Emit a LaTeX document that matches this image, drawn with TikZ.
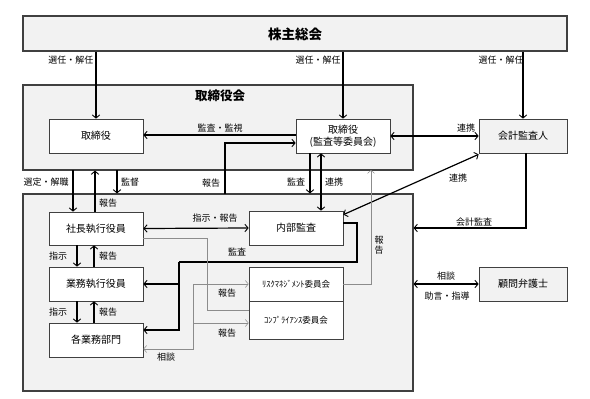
\documentclass[tikz,border=0pt]{standalone}
\usepackage{fontspec}
\setmainfont{Noto Sans CJK JP}
\usetikzlibrary{arrows.meta}
\definecolor{boxgray}{HTML}{F2F2F2}
\definecolor{edge}{HTML}{404040}
\tikzset{
  bigbox/.style={draw=edge, line width=1.1pt, fill=boxgray, rectangle, inner sep=0pt},
  subbox/.style={draw=edge, line width=0.7pt, fill=white, rectangle, inner sep=0pt, minimum width=94pt, font=\fontsize{10}{12}\selectfont, align=center},
  graybox/.style={subbox, fill=boxgray, minimum width=88pt, minimum height=34pt},
  lbl/.style={inner sep=0pt, font=\fontsize{9}{10}\selectfont},
  tipw/.tip={Straight Barb[length=3.2pt,width=7.5pt,line width=0.9pt]},
  tipt/.tip={Straight Barb[length=3pt,width=7pt,line width=0.5pt]},
  arr/.style={line width=1.2pt, -tipw},
  darr/.style={line width=1.2pt, tipw-tipw},
  heavy/.style={line width=1.2pt},
  tline/.style={line width=0.6pt, draw=gray!90},
  tarr/.style={tline, -tipt},
}
\begin{document}
\begin{tikzpicture}[x=1pt,y=-1pt]
\useasboundingbox[fill=white] (0,0) rectangle (590,399);
% big boxes
\node[bigbox, minimum width=544pt, minimum height=35pt] (sh) at (295,33.5) {};
\node[inner sep=0pt, font=\fontsize{13.5}{15}\bfseries] (shlabel) at (295,34) {株主総会};
\node[bigbox, minimum width=390pt, minimum height=85pt] (board) at (218,127.5) {};
\node[inner sep=0pt, font=\fontsize{12.5}{14}\bfseries] (boardlabel) at (220,96) {取締役会};
\node[bigbox, minimum width=390pt, minimum height=197pt] (lower) at (218,292.5) {};
% sub boxes
\node[subbox, minimum height=34pt] (tori) at (96,136) {取締役};
\node[subbox, minimum height=34pt] (kansa) at (343,136) {取締役\\(監査等委員会)};
\node[graybox] (kaikei) at (523,136) {会計監査人};
\node[subbox, minimum height=33pt] (shacho) at (96,228.5) {社長執行役員};
\node[subbox, minimum height=34pt] (gyomu) at (96,284) {業務執行役員};
\node[subbox, minimum height=34pt] (kakubu) at (96,340) {各業務部門};
\node[subbox, minimum height=34pt] (naibu) at (296,228) {内部監査};
\node[subbox, minimum height=34pt, font=\fontsize{8.5}{10}\selectfont] (risk) at (296,284) {ﾘｽｸﾏﾈｼﾞﾒﾝﾄ委員会};
\node[subbox, minimum height=38pt, font=\fontsize{8.5}{10}\selectfont] (comp) at (296,320) {ｺﾝﾌﾟﾗｲｱﾝｽ委員会};
\node[graybox] (komon) at (523,284) {顧問弁護士};
% shareholders -> boards
\draw[arr] (tori.north |- sh.south) -- (tori.north);
\node[lbl] (l1) at (71,60) {選任・解任};
\draw[arr] (kansa.north |- sh.south) -- (kansa.north);
\node[lbl] (l2) at (318,60) {選任・解任};
\draw[arr] (kaikei.north |- sh.south) -- (kaikei.north);
\node[lbl] (l3) at (501,60) {選任・解任};
% board level
\draw[arr] ([yshift=1pt]kansa.west) -- ([yshift=1pt]tori.east);
\node[lbl] (l4) at (220,128) {監査・監視};
\coordinate (rp) at (225,194);
\draw[arr] (rp) |- ([yshift=-7pt]kansa.west);
\node[lbl] (l5) at (211,183) {報告};
\draw[darr] (kansa.east) -- (kaikei.west);
\node[lbl] (l6) at (466,128) {連携};
\draw[darr] ([yshift=-1pt]kaikei.south west) -- ([yshift=-4pt]naibu.north east);
\node[lbl] (l7) at (458,178) {連携};
\coordinate (ka) at (526,153);
\draw[arr] (ka) |- (lower.east |- naibu.center);
\node[lbl] (l8) at (474,222) {会計監査};
\coordinate (kz) at (310,153);
\draw[arr] (kz) -- (kz |- lower.north);
\node[lbl] (l9) at (296,182) {監査};
\draw[darr] ([xshift=-22pt]kansa.south) -- ([xshift=25pt]naibu.north);
\node[lbl] (l10) at (334,182) {連携};
\coordinate (rk) at (371,170);
\draw[tarr] (risk.east) -| (rk);
\node[lbl, align=center] (l11) at (379,245) {報\\告};
% left side
\coordinate (s1) at (73,170);
\draw[arr] (s1) -- (s1 |- shacho.north);
\node[lbl] (l12) at (46,182) {選定・解職};
\draw[arr] ([xshift=-1pt]shacho.north) -- ([xshift=-1pt]shacho.north |- board.south);
\node[lbl] (l13) at (108,203) {報告};
\coordinate (s2) at (117,170);
\draw[arr] (s2) -- (s2 |- lower.north);
\node[lbl] (l14) at (130,182) {監督};
\draw[arr] ([xshift=-19pt]shacho.south) -- ([xshift=-19pt]gyomu.north);
\draw[arr] ([xshift=-2pt]gyomu.north) -- ([xshift=-2pt]shacho.south);
\node[lbl] (l15) at (58,256) {指示};
\node[lbl] (l16) at (108,256) {報告};
\draw[arr] ([xshift=-19pt]gyomu.south) -- ([xshift=-19pt]kakubu.north);
\draw[arr] ([xshift=-2pt]kakubu.north) -- ([xshift=-2pt]gyomu.south);
\node[lbl] (l17) at (58,312) {指示};
\node[lbl] (l18) at (108,312) {報告};
% inner lower
\draw[darr] (shacho.east) -- (naibu.west);
\node[lbl] (l19) at (215,218) {指示・報告};
\coordinate (k1) at (357,262);
\coordinate (k2) at (179,262);
\coordinate (k3) at (179,284);
\draw[heavy] ([yshift=5pt]naibu.east) -| (k1) -- (k2);
\draw[arr] (k2) |- ([yshift=10pt]kakubu.east);
\draw[arr] (k3) -- (gyomu.east);
\node[lbl] (l20) at (237,252) {監査};
\coordinate (g1) at (207,238);
\coordinate (g2) at (207,310);
\draw[tline] ([yshift=-9.5pt]shacho.east) -- (g1) -- (g2) -- (g2 -| comp.west);
\coordinate (c1) at (193,284);
\coordinate (c2) at (193,323);
\coordinate (c3) at (193,349);
\draw[tarr] (c1) -- (risk.west);
\draw[tarr] (c2) -- (c2 -| comp.west);
\draw[tarr] (c1) -- (c3) -- ([yshift=-9pt]kakubu.east);
\node[lbl] (l21) at (227,293) {報告};
\node[lbl] (l22) at (227,333) {報告};
\node[lbl] (l23) at (166,357) {相談};
% advisor
\draw[darr] (lower.east |- komon.west) -- (komon.west);
\node[lbl] (l24) at (446,276) {相談};
\node[lbl] (l25) at (447,296) {助言・指導};
\end{tikzpicture}
\end{document}
